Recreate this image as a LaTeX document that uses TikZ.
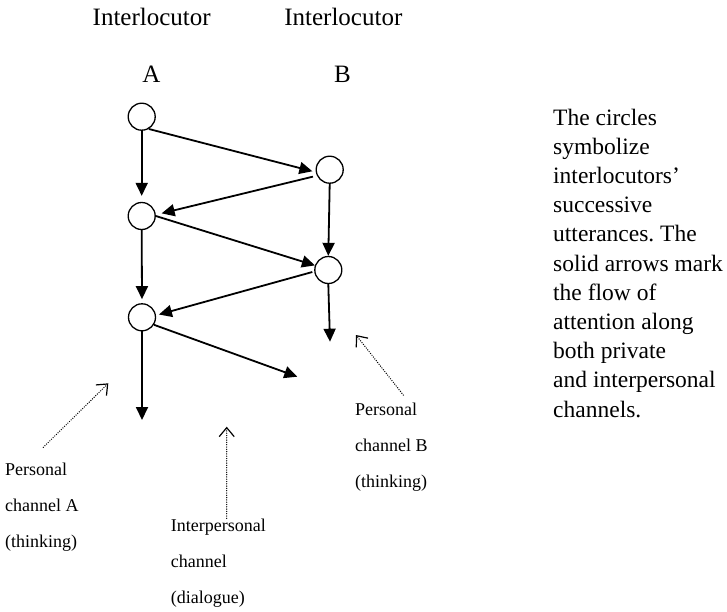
\documentclass[tikz,border=0pt]{standalone}
\usepackage{fontspec}
\setmainfont{Liberation Serif}
\usetikzlibrary{arrows.meta}
\frenchspacing

\begin{document}
\begin{tikzpicture}[x=1pt,y=-1pt,
  utter/.style={circle,draw,line width=1.3pt,minimum size=27pt,inner sep=0pt},
  flow/.style={line width=1.8pt,-{Triangle[length=13pt,width=12pt]}},
  hint/.style={line width=1.4pt,line cap=round,dash pattern=on 0pt off 2.3pt,
               -{Straight Barb[length=9pt,width=15pt,line width=1.2pt]}},
  head/.style={font=\fontsize{25}{29}\selectfont,anchor=base,inner sep=0pt},
  note/.style={font=\fontsize{23.5}{29.2}\selectfont,align=left,anchor=base west,inner sep=0pt},
  tag/.style={font=\fontsize{18}{36}\selectfont,align=left,anchor=base west,inner sep=0pt}]

\useasboundingbox (0,0) rectangle (727,611);

% column headings
\node[head] (hA) at (151.7,25) {Interlocutor};
\node[head] (hB) at (343.3,25) {Interlocutor};
\node[head] (lA) at (151.5,82) {A};
\node[head] (lB) at (342.5,82) {B};

% utterances
\node[utter] (a1) at (141.7,116.7) {};
\node[utter] (b1) at (329.7,169.7) {};
\node[utter] (a2) at (141.7,216) {};
\node[utter] (b2) at (328.3,270) {};
\node[utter] (a3) at (142,317.3) {};

% open ends of the last arrows
\coordinate (endA) at (142,420);
\coordinate (endX) at (297.3,376.7);
\coordinate (endB) at (330,341.7);

% flow of attention
\draw[flow,shorten >=6pt] (a1.south) -- (a2.north);
\draw[flow,shorten >=3.5pt] (a1.-60) -- (b1.190);
\draw[flow,shorten <=4pt,shorten >=6pt] (b1.205) -- (a2.5);
\draw[flow] (a2.east) -- (b2.161);
\draw[flow] (b1.south) -- (b2.north);
\draw[flow,shorten >=4pt] (a2.south) -- (a3.north);
\draw[flow,shorten <=2pt,shorten >=3pt] (b2.186) -- (a3.8);
\draw[flow] (a3.south) -- (endA);
\draw[flow] (a3.-32) -- (endX);
\draw[flow] (b2.south) -- (endB);

% explanatory note (anchored on the baseline of its last line)
\node[note] (txt) at (553,417) {The circles\\symbolize\\interlocutors’\\successive\\utterances. The\\solid arrows mark\\the flow of\\attention along\\both private\\and interpersonal\\channels.};

% channel labels (anchored on the baseline of their last line)
\node[tag] (pA) at (5,547) {Personal\\channel A\\(thinking)};
\node[tag] (ip) at (170.7,603) {Interpersonal\\channel\\(dialogue)};
\node[tag] (pB) at (355,487) {Personal\\channel B\\(thinking)};

% dotted pointers
\coordinate (sA) at (43.3,447.3);
\coordinate (tA) at (108.3,383.3);
\coordinate (sX) at (226.7,518.3);
\coordinate (tX) at (226.7,426.7);
\coordinate (sB) at (403.3,395);
\coordinate (tB) at (356,335);
\draw[hint] (sA) -- (tA);
\draw[hint] (sX) -- (tX);
\draw[hint] (sB) -- (tB);
\end{tikzpicture}
\end{document}
